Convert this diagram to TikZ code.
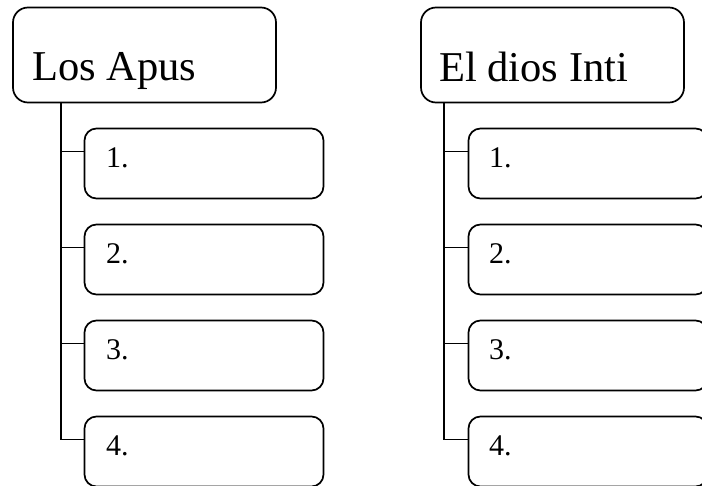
\documentclass[tikz,border=0pt]{standalone}
\usepackage{fontspec}
\setmainfont{Liberation Serif}
\usetikzlibrary{calc}
\tikzset{
  headbox/.style={draw, line width=1.7pt, rounded corners=15pt, minimum width=263pt, minimum height=95pt, inner sep=0pt},
  childbox/.style={draw, line width=1.7pt, rounded corners=12pt, minimum width=239pt, minimum height=70pt, inner sep=0pt},
  headtext/.style={anchor=base west, inner sep=0pt, font=\fontsize{42.5}{44}\selectfont},
  childtext/.style={anchor=base west, inner sep=0pt, font=\fontsize{30}{32}\selectfont},
  conn/.style={line width=1.7pt},
}
\begin{document}
\begin{tikzpicture}[x=1pt, y=-1pt]
\useasboundingbox (0,0) rectangle (702,486);
\clip (0,0) rectangle (702,486);
% left column
\node[headbox] (h1) at (144.5,55) {};
\node[headtext] (h1t) at (32,81) {Los Apus};
\coordinate (sL) at (61,0);
\node[childbox] (c11) at (204,163.5) {};
\node[childbox] (c12) at (204,259.5) {};
\node[childbox] (c13) at (204,355.5) {};
\node[childbox] (c14) at (204,451.5) {};
\node[childtext] (t11) at (106,168) {1.};
\node[childtext] (t12) at (106,264) {2.};
\node[childtext] (t13) at (106,360) {3.};
\node[childtext] (t14) at (106,456) {4.};
\path (c11.north west) ++(0,24) coordinate (b11);
\path (c12.north west) ++(0,24) coordinate (b12);
\path (c13.north west) ++(0,24) coordinate (b13);
\path (c14.north west) ++(0,24) coordinate (b14);
\draw[conn] (h1.south -| sL) |- (b14);
\draw[conn] (b11 -| sL) -- (b11);
\draw[conn] (b12 -| sL) -- (b12);
\draw[conn] (b13 -| sL) -- (b13);
% right column
\node[headbox] (h2) at (552.5,55) {};
\node[headtext] (h2t) at (439,82) {El dios Inti};
\coordinate (sR) at (444,0);
\node[childbox] (c21) at (588,163.5) {};
\node[childbox] (c22) at (588,259.5) {};
\node[childbox] (c23) at (588,355.5) {};
\node[childbox] (c24) at (588,451.5) {};
\node[childtext] (t21) at (489,168) {1.};
\node[childtext] (t22) at (489,264) {2.};
\node[childtext] (t23) at (489,360) {3.};
\node[childtext] (t24) at (489,456) {4.};
\path (c21.north west) ++(0,24) coordinate (b21);
\path (c22.north west) ++(0,24) coordinate (b22);
\path (c23.north west) ++(0,24) coordinate (b23);
\path (c24.north west) ++(0,24) coordinate (b24);
\draw[conn] (h2.south -| sR) |- (b24);
\draw[conn] (b21 -| sR) -- (b21);
\draw[conn] (b22 -| sR) -- (b22);
\draw[conn] (b23 -| sR) -- (b23);
\end{tikzpicture}
\end{document}
